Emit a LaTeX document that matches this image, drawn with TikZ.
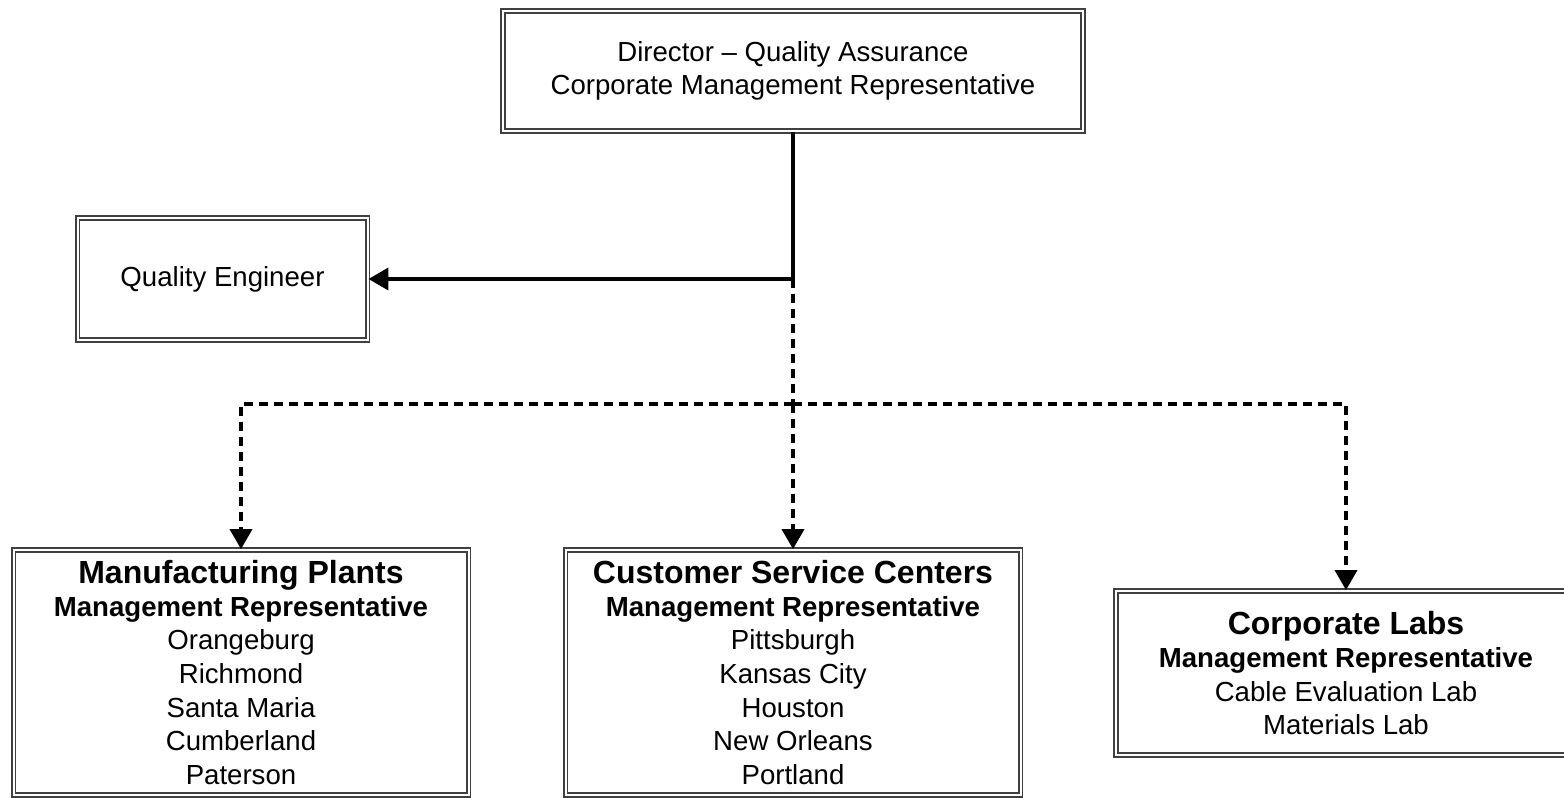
\documentclass[tikz,border=0pt]{standalone}
\usepackage{fontspec}
\setmainfont{Liberation Sans}
\usetikzlibrary{arrows.meta}
\tikzset{
  orgbox/.style={draw=black!75, line width=1.8pt, double=white, double distance=2pt,
    rectangle, inner sep=0pt, align=center, font=\fontsize{27.6}{33.6}\selectfont},
  conn/.style={line width=3.6pt, black},
  dconn/.style={conn, dash pattern=on 9pt off 6pt},
  tip/.style={-{Triangle[width=22pt,length=20pt]}}
}
\newcommand{\ttl}[1]{{\fontsize{32}{36}\selectfont\bfseries #1}}
\begin{document}
\begin{tikzpicture}[x=1pt,y=-1pt]
\useasboundingbox (0,0) rectangle (1564,798);
\node[orgbox, minimum width=580pt, minimum height=120pt] (dir) at (793,71)
  {Director -- Quality Assurance\\Corporate Management Representative};
\node[orgbox, minimum width=290pt, minimum height=122pt] (qe) at (222.5,279)
  {Quality Engineer};
\node[orgbox, minimum width=455pt, minimum height=245pt] (mp) at (241,672.5)
  {\ttl{Manufacturing Plants}\\[-1pt]\textbf{Management Representative}\\Orangeburg\\Richmond\\Santa Maria\\Cumberland\\Paterson};
\node[orgbox, minimum width=455pt, minimum height=245pt] (csc) at (793,672.5)
  {\ttl{Customer Service Centers}\\[-1pt]\textbf{Management Representative}\\Pittsburgh\\Kansas City\\Houston\\New Orleans\\Portland};
\node[orgbox, minimum width=460pt, minimum height=164pt] (cl) at (1346,673)
  {\ttl{Corporate Labs}\\[0pt]\textbf{Management Representative}\\Cable Evaluation Lab\\Materials Lab};
\coordinate (j1) at (793,279);
\coordinate (j2) at (793,404);
\draw[conn] (dir.south) -- (j1);
\draw[conn,tip] (j1) -- (qe.east);
\draw[dconn] (j1) -- (j2);
\draw[dconn,tip] (j2) -| (mp.north);
\draw[dconn,tip] (j2) -- (csc.north);
\draw[dconn,tip] (j2) -| (cl.north);
\end{tikzpicture}
\end{document}
